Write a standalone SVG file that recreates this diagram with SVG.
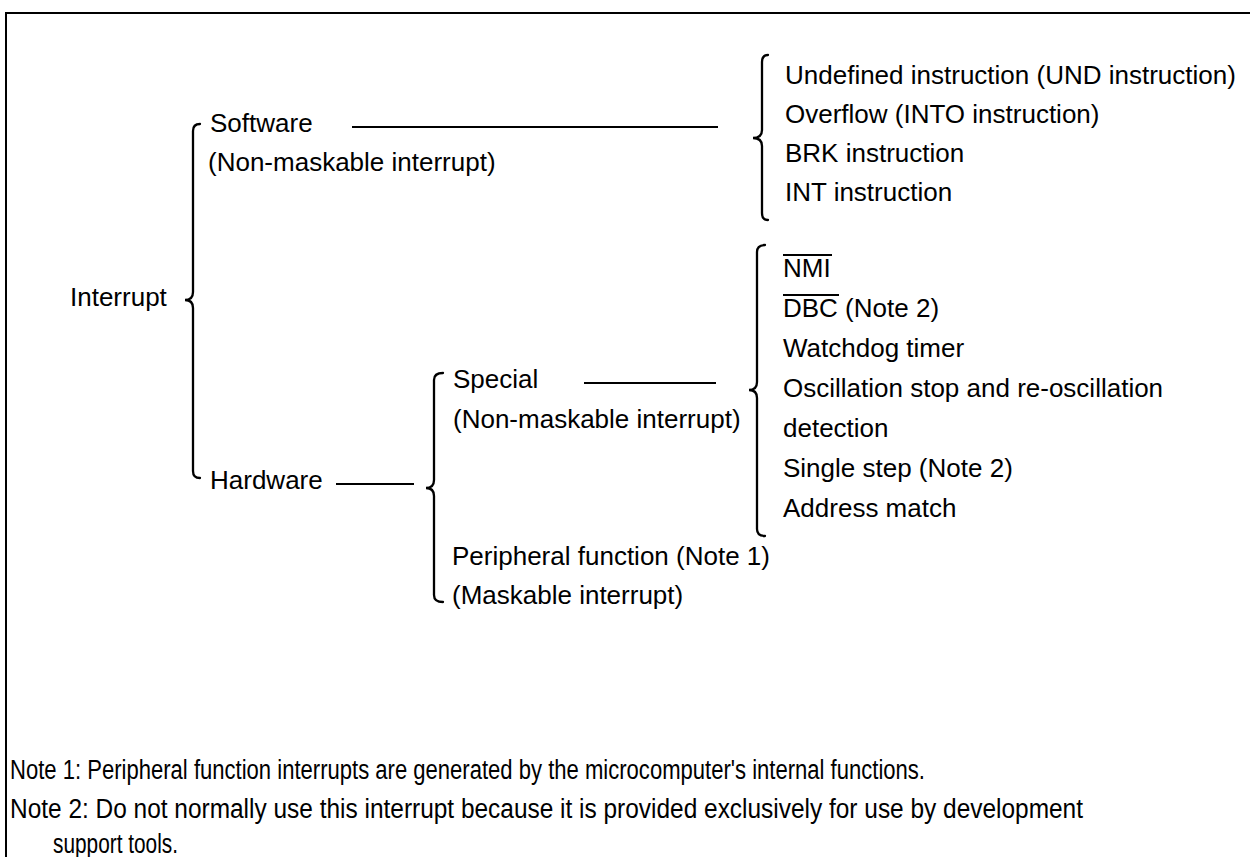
<svg xmlns="http://www.w3.org/2000/svg" width="1250" height="857" viewBox="0 0 1250 857">
<style>
text{font-family:"Liberation Sans",Arial,sans-serif;font-size:26px;fill:#000}
.note{font-size:27px}
.ln{stroke:#000;stroke-width:2;fill:none}
.br{stroke:#000;stroke-width:2.3;fill:none;stroke-linecap:round}
</style>
<rect x="0" y="0" width="1250" height="857" fill="#fff"/>
<path class="ln" d="M6,860 V13 H1252" stroke-width="2.5"/>

<g id="interrupt">
<text x="70" y="306">Interrupt</text>
<path class="br" d="M200,124 Q193,124 193,131 L193,292 Q193,300 185,300 Q193,300 193,308 L193,471 Q193,478 200,478"/>
</g>

<g id="software">
<text x="210" y="132">Software</text>
<text x="208" y="171">(Non-maskable interrupt)</text>
</g>

<g id="software-items">
<path class="br" d="M768,55 Q762,55 762,62 L762,130 Q762,138 753,138 Q762,138 762,146 L762,213 Q762,220 768,220"/>
<text x="785" y="84">Undefined instruction (UND instruction)</text>
<text x="785" y="123">Overflow (INTO instruction)</text>
<text x="785" y="162">BRK instruction</text>
<text x="785" y="201">INT instruction</text>
</g>

<g id="hardware">
<text x="210" y="489">Hardware</text>
<path class="br" d="M443,373 Q434,373 434,380 L434,480 Q434,488 426,488 Q434,488 434,496 L434,595 Q434,602 443,602"/>
</g>

<g id="special">
<text x="453" y="388">Special</text>
<text x="453" y="428">(Non-maskable interrupt)</text>
</g>

<g id="special-items">
<path class="br" d="M765,245 Q757,245 757,252 L757,382 Q757,390 749,390 Q757,390 757,398 L757,529 Q757,536 765,536"/>
<text x="783" y="277">NMI</text>
<line class="ln" x1="783" y1="255" x2="832" y2="255" stroke-width="1.3"/>
<text x="783" y="317">DBC (Note 2)</text>
<line class="ln" x1="783" y1="295" x2="839" y2="295" stroke-width="1.3"/>
<text x="783" y="357">Watchdog timer</text>
<text x="783" y="397">Oscillation stop and re-oscillation</text>
<text x="783" y="437">detection</text>
<text x="783" y="477">Single step (Note 2)</text>
<text x="783" y="517">Address match</text>
</g>

<g id="peripheral">
<text x="452" y="565">Peripheral function (Note 1)</text>
<text x="452" y="604">(Maskable interrupt)</text>
</g>

<g id="connectors">
<line class="ln" x1="352" y1="127" x2="718" y2="127"/>
<line class="ln" x1="336" y1="484" x2="414" y2="484"/>
<line class="ln" x1="584" y1="383" x2="716" y2="383"/>
</g>

<g id="notes">
<text class="note" x="10" y="779" textLength="915" lengthAdjust="spacingAndGlyphs">Note 1: Peripheral function interrupts are generated by the microcomputer's internal functions.</text>
<text class="note" x="10" y="818" textLength="1073" lengthAdjust="spacingAndGlyphs">Note 2: Do not normally use this interrupt because it is provided exclusively for use by development</text>
<text class="note" x="53" y="853" textLength="125" lengthAdjust="spacingAndGlyphs">support tools.</text>
</g>
</svg>
